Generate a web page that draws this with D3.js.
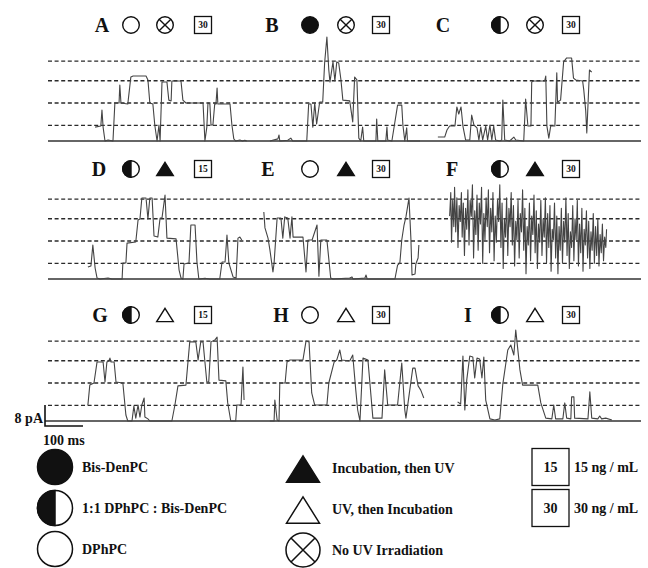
<!DOCTYPE html>
<html>
<head>
<meta charset="utf-8">
<script src="https://cdn.jsdelivr.net/npm/d3@7"></script>
<style>
  body { margin: 0; background: #fff; }
  svg { display: block; }
</style>
</head>
<body>
<svg id="chart" width="648" height="568"></svg>
<script>
// ---- Data ----------------------------------------------------------------
const panelLetters = ["A", "B", "C", "D", "E", "F", "G", "H", "I"];
// membrane: open = DPhPC, filled = Bis-DenPC, half = 1:1 mixture
const panelMembrane = ["open", "filled", "half", "half", "open", "half", "half", "open", "half"];
// treatment: none = no UV, incUV = incubation then UV, uvInc = UV then incubation
const panelTreatment = ["none", "none", "none", "incUV", "incUV", "incUV", "uvInc", "uvInc", "uvInc"];
const panelConc = [30, 30, 30, 15, 30, 30, 15, 30, 30];

// conductance levels (pA) marked by dashed lines
const levels = [6, 14.5, 23, 30.5];

// current traces: [time (ms), current (pA)]
const traceA = [[124,5.3],[139,5.7],[142,11.8],[145,5.3],[150,0],[158,0.4],[171,0],[176,14.5],[187,14.5],[189,21.4],[192,14.5],[210,14.1],[218,24.4],[224,24.8],[258,24.8],[263,23.3],[268,14.5],[276,14.1],[281,6.1],[287,0],[292,6.1],[295,0],[300,22.5],[313,22.5],[318,15.6],[324,15.3],[326,22.9],[350,22.9],[355,15.6],[363,14.5],[408,14.5],[413,0],[418,5.3],[421,14.5],[426,14.1],[429,6.1],[434,6.1],[439,14.5],[442,14.1],[445,20.2],[447,14.1],[479,14.1],[484,6.1],[489,0.8],[494,0],[505,0.4],[512,0],[518,0.3],[523,0]];
const traceB = [[584,0],[605,0.8],[608,2.3],[610,0],[631,0.3],[639,1.1],[644,0],[681,0],[686,14.1],[692,14.1],[697,5.3],[702,14.5],[707,6.5],[715,14.9],[723,14.9],[728,29.8],[734,39.7],[739,27.1],[742,22.5],[750,30.2],[755,22.9],[760,30.2],[765,29.8],[771,23.3],[776,15.6],[794,15.3],[802,7.3],[807,24.4],[813,23.3],[818,1.1],[823,0],[828,5.3],[831,0],[863,0],[865,8.4],[868,0],[889,0],[892,5.3],[894,0.4],[905,0],[920,13.7],[931,13.7],[934,6.1],[939,0],[944,5],[946,0],[979,0]];
const traceC = [[1026,1.5],[1044,1.5],[1050,4.2],[1057,5.7],[1071,5.7],[1076,13],[1081,10.3],[1087,13],[1092,5.7],[1099,0.4],[1110,0.4],[1115,9.9],[1121,6.1],[1129,5],[1134,0.4],[1139,5.3],[1144,0.4],[1152,5.7],[1157,0.4],[1163,6.1],[1168,0.4],[1173,5.7],[1178,0.4],[1189,0],[1194,0.4],[1197,15.6],[1202,0.4],[1215,0],[1226,1.5],[1231,0.4],[1252,0],[1257,16],[1263,5.7],[1271,5.7],[1273,22.5],[1278,22.9],[1307,22.9],[1310,24.8],[1313,5.7],[1318,1.1],[1323,5.7],[1334,5.7],[1339,26],[1341,14.9],[1349,15.6],[1357,30.2],[1365,31.7],[1378,31.7],[1383,24],[1389,23.3],[1407,22.9],[1410,19.5],[1415,11.8],[1418,3.1],[1425,27.1],[1431,26.3]];
const traceD = [[105,4.6],[113,5],[118,13],[124,4.2],[129,0.4],[137,0],[158,0.4],[168,0],[195,0],[197,6.1],[205,6.1],[208,13.7],[231,14.1],[237,22.5],[242,22.9],[247,30.9],[258,30.9],[263,22.9],[268,30.9],[274,30.9],[279,16.4],[289,16],[295,23.3],[300,23.3],[308,32],[313,15.6],[337,15.3],[345,3.4],[350,0.4],[355,0],[358,5.7],[371,6.1],[376,20.6],[387,20.6],[392,6.5],[397,0],[413,0.3],[426,0],[452,0],[458,6.5],[466,6.5],[471,16.8],[476,6.1],[487,0.8],[495,0.4],[500,15.6],[505,16],[510,14.9]];
const traceE = [[568,25.6],[571,19.5],[579,15.6],[584,11.1],[592,2.7],[595,6.1],[603,23.3],[613,23.3],[618,15.6],[623,23.7],[631,23.3],[637,15.6],[642,23.7],[645,16],[671,16],[679,2.7],[684,14.9],[695,14.9],[708,20.6],[713,1.1],[718,14.9],[734,14.9],[744,0.4],[750,0],[794,0.4],[800,0.8],[803,0],[834,0.4],[837,1.5],[840,0],[886,0],[913,0],[920,5.3],[926,6.1],[931,14.9],[937,20.6],[942,23.7],[950,30.9],[955,15.6],[958,1.5],[966,1.9],[968,5.7],[974,8],[976,13]];
const traceF = [[1057,24],[1060,33],[1062,14],[1065,30],[1068,20],[1070,35],[1073,18],[1076,31],[1079,12],[1082,28],[1085,22],[1088,33],[1090,16],[1093,29],[1096,9],[1099,27],[1102,19],[1105,34],[1108,13],[1111,30],[1114,24],[1117,36],[1120,8],[1123,26],[1126,17],[1129,32],[1132,11],[1135,29],[1138,21],[1141,35],[1144,6],[1147,25],[1150,15],[1153,31],[1156,20],[1159,34],[1162,10],[1165,27],[1168,18],[1171,33],[1174,7],[1177,24],[1180,14],[1183,30],[1186,22],[1189,36],[1192,12],[1195,29],[1198,4],[1201,23],[1204,16],[1207,31],[1210,9],[1213,27],[1216,20],[1219,33],[1222,13],[1225,28],[1228,5],[1231,22],[1234,15],[1237,30],[1240,8],[1243,25],[1246,18],[1249,34],[1252,11],[1255,27],[1258,2],[1261,20],[1264,13],[1267,29],[1270,7],[1273,24],[1276,17],[1279,32],[1282,10],[1285,26],[1288,4],[1291,21],[1294,14],[1297,30],[1300,9],[1303,23],[1306,16],[1309,31],[1312,6],[1315,25],[1318,12],[1321,28],[1324,3],[1327,19],[1330,15],[1333,29],[1336,8],[1339,24],[1342,2],[1345,20],[1348,11],[1351,27],[1354,6],[1357,22],[1360,14],[1363,31],[1366,9],[1369,25],[1372,4],[1375,18],[1378,12],[1381,28],[1384,7],[1387,23],[1390,15],[1393,30],[1396,5],[1399,21],[1402,10],[1405,27],[1408,3],[1411,19],[1414,13],[1417,26],[1420,8],[1423,22],[1426,4],[1429,18],[1432,11],[1435,25],[1438,6],[1441,20],[1444,9],[1447,23],[1450,5],[1453,17],[1456,10],[1459,21],[1462,7],[1465,16],[1468,12],[1470,19]];
const traceG = [[105,6.1],[110,13.7],[121,14.5],[129,22.5],[145,22.5],[150,14.9],[155,22.5],[160,22.9],[163,24],[166,22.5],[174,22.5],[179,14.9],[197,14.5],[205,2.3],[210,0],[221,0],[226,5.7],[231,1.1],[237,6.1],[242,1.5],[247,6.1],[253,8.8],[255,1.5],[263,0.8],[268,0],[326,0],[334,6.1],[342,13.4],[363,13.7],[373,30.2],[389,30.2],[395,23.3],[402,30.2],[408,30.2],[413,22.5],[418,14.9],[423,14.9],[429,30.2],[439,30.9],[445,32],[450,15.6],[468,15.3],[473,6.9],[481,0],[494,0],[497,6.1],[508,6.1],[513,20.6],[516,8]];
const traceH = [[584,0],[595,0],[597,8],[603,0.4],[608,0],[610,14.5],[624,14.5],[629,22.5],[637,23.3],[671,23.3],[679,30.5],[687,30.2],[694,10.7],[702,6.1],[734,6.1],[739,14.5],[753,22.5],[760,23.3],[768,27.1],[773,23.3],[794,22.9],[802,25.2],[810,11.8],[815,4.2],[821,0],[829,24],[842,23.3],[855,1.1],[879,1.1],[886,19.5],[894,6.1],[907,6.1],[920,6.1],[931,22.1],[939,4.2],[942,1.1],[960,20.2],[966,20.2],[974,13.4],[981,11.8],[989,8.8]];
const traceI = [[1078,7.3],[1086,6.5],[1092,24.8],[1097,4.2],[1102,15.6],[1110,24.8],[1118,24.4],[1123,16.4],[1129,24],[1136,23.7],[1142,16.4],[1147,24.4],[1152,8],[1163,0.8],[1176,0.4],[1189,0.8],[1197,14.1],[1210,27.1],[1218,29],[1226,25.2],[1231,34.7],[1236,27.9],[1242,19.5],[1249,13.7],[1260,13.7],[1289,13.7],[1297,6.9],[1310,1.1],[1326,0.8],[1331,6.1],[1336,0.8],[1355,0.8],[1360,6.9],[1365,1.1],[1376,0.8],[1378,9.2],[1384,9.2],[1386,1.1],[1421,0.8],[1426,11.1],[1431,1.1],[1447,0.8],[1452,1.9],[1457,0.8],[1468,1.1],[1484,0.4]];
const traces = [traceA, traceB, traceC, traceD, traceE, traceF, traceG, traceH, traceI];

// legend entries
const membraneKeys = ["filled", "half", "open"];
const membraneLabels = ["Bis-DenPC", "1:1 DPhPC : Bis-DenPC", "DPhPC"];
const treatmentKeys = ["incUV", "uvInc", "none"];
const treatmentLabels = ["Incubation, then UV", "UV, then Incubation", "No UV Irradiation"];
const concValues = [15, 30];
const concLabels = ["15 ng / mL", "30 ng / mL"];

// scale bar
const scaleBarPA = 8;
const scaleBarMs = 100;

// ---- Layout --------------------------------------------------------------
const svg = d3.select("#chart");
const serif = "'Liberation Serif', 'Times New Roman', serif";
const ink = "#111";
const traceColor = "#444";

const rowBase = [141, 279, 421];
const headerY = [25, 169, 315];
const pxPerPA = 2.62;
const x = d3.scaleLinear().domain([0, 1558]).range([48, 640]);
const yScales = rowBase.map(b => d3.scaleLinear().domain([0, 40]).range([b, b - 40 * pxPerPA]));

const letterX = [102, 272, 443, 99, 268, 452, 100, 281, 468];
const symX = [[131, 165, 203], [310, 346, 381], [500, 535, 571]];

// ---- Symbol helpers ------------------------------------------------------
function membraneSymbol(g, kind, cx, cy, r, sw) {
  if (kind === "half") {
    g.append("circle").attr("cx", cx).attr("cy", cy).attr("r", r)
      .attr("fill", "#fff").attr("stroke", ink).attr("stroke-width", sw);
    g.append("path")
      .attr("d", `M${cx},${cy - r} A${r},${r} 0 0 0 ${cx},${cy + r} Z`)
      .attr("fill", ink).attr("stroke", ink).attr("stroke-width", sw);
  } else {
    g.append("circle").attr("cx", cx).attr("cy", cy).attr("r", r)
      .attr("fill", kind === "filled" ? ink : "#fff")
      .attr("stroke", ink).attr("stroke-width", sw);
  }
}

function treatmentSymbol(g, kind, cx, cy, size, sw) {
  if (kind === "none") {
    const r = size;
    g.append("circle").attr("cx", cx).attr("cy", cy).attr("r", r)
      .attr("fill", "#fff").attr("stroke", ink).attr("stroke-width", sw);
    const d = r * Math.SQRT1_2;
    g.append("path")
      .attr("d", `M${cx - d},${cy - d}L${cx + d},${cy + d}M${cx + d},${cy - d}L${cx - d},${cy + d}`)
      .attr("stroke", ink).attr("stroke-width", sw);
  } else {
    const w = size * 1.0, h = size * 0.8;
    g.append("path")
      .attr("d", `M${cx},${cy - h}L${cx + w},${cy + h}L${cx - w},${cy + h}Z`)
      .attr("fill", kind === "incUV" ? ink : "#fff")
      .attr("stroke", ink).attr("stroke-width", sw).attr("stroke-linejoin", "miter");
  }
}

function concBox(g, value, cx, cy, w, h, fontSize, sw) {
  g.append("rect").attr("x", cx - w / 2).attr("y", cy - h / 2)
    .attr("width", w).attr("height", h)
    .attr("fill", "#fff").attr("stroke", ink).attr("stroke-width", sw);
  g.append("text").attr("x", cx).attr("y", cy + fontSize * 0.35)
    .attr("text-anchor", "middle").attr("font-family", serif)
    .attr("font-weight", "bold").attr("font-size", fontSize).attr("fill", ink)
    .text(value);
}

// ---- Reference lines -----------------------------------------------------
rowBase.forEach((base, r) => {
  const y = yScales[r];
  const g = svg.append("g");
  g.selectAll("line.level").data(levels).join("line")
    .attr("class", "level")
    .attr("x1", x.range()[0]).attr("x2", x.range()[1] + 1)
    .attr("y1", d => y(d)).attr("y2", d => y(d))
    .attr("stroke", "#2a2a2a").attr("stroke-width", 1.3)
    .attr("stroke-dasharray", "4,2.6");
  g.append("line")
    .attr("x1", r === 2 ? x.range()[0] - 3 : x.range()[0]).attr("x2", x.range()[1] + 1)
    .attr("y1", y(0)).attr("y2", y(0))
    .attr("stroke", "#333").attr("stroke-width", 1.6);
});

// ---- Traces --------------------------------------------------------------
traces.forEach((tr, i) => {
  const row = Math.floor(i / 3);
  const y = yScales[row];
  const line = d3.line().x(d => x(d[0])).y(d => y(d[1]));
  svg.append("path").datum(tr)
    .attr("d", line)
    .attr("fill", "none")
    .attr("stroke", traceColor)
    .attr("stroke-width", 1.1)
    .attr("stroke-linejoin", "round");
});

// ---- Panel headers -------------------------------------------------------
panelLetters.forEach((L, i) => {
  const row = Math.floor(i / 3), col = i % 3;
  const cy = headerY[row];
  const g = svg.append("g");
  g.append("text").attr("x", letterX[i]).attr("y", cy + 7)
    .attr("text-anchor", "middle").attr("font-family", serif)
    .attr("font-weight", "bold").attr("font-size", 20).attr("fill", ink)
    .text(L);
  membraneSymbol(g, panelMembrane[i], symX[col][0], cy, 8.3, 1.4);
  treatmentSymbol(g, panelTreatment[i], symX[col][1], cy, 8.3, 1.4);
  concBox(g, panelConc[i], symX[col][2], cy, 17, 17, 9.5, 1.3);
});

// ---- Scale bar -----------------------------------------------------------
{
  const y = yScales[2];
  const x0 = 45;
  const yBot = y(0) + 5;
  const g = svg.append("g");
  g.append("path")
    .attr("d", `M${x0},${yBot - scaleBarPA * pxPerPA}V${yBot}H${x0 + (x(scaleBarMs) - x(0))}`)
    .attr("fill", "none").attr("stroke", ink).attr("stroke-width", 1.6);
  g.append("text").attr("x", 43).attr("y", 423)
    .attr("text-anchor", "end").attr("font-family", serif)
    .attr("font-weight", "bold").attr("font-size", 14).attr("fill", ink)
    .text(`${scaleBarPA} pA`);
  g.append("text").attr("x", 43).attr("y", 445)
    .attr("font-family", serif)
    .attr("font-weight", "bold").attr("font-size", 14).attr("fill", ink)
    .text(`${scaleBarMs} ms`);
}

// ---- Legend --------------------------------------------------------------
{
  const g = svg.append("g");
  const rowsY = [467, 508, 549];
  const labelStyle = sel => sel.attr("font-family", serif).attr("font-weight", "bold")
    .attr("font-size", 14).attr("fill", ink);

  membraneKeys.forEach((k, i) => {
    membraneSymbol(g, k, 55, rowsY[i], 17.5, 1.5);
    g.append("text").attr("x", 82).attr("y", rowsY[i] + 5).call(labelStyle).text(membraneLabels[i]);
  });

  treatmentKeys.forEach((k, i) => {
    treatmentSymbol(g, k, 303, rowsY[i] + (k === "none" ? 1 : 2), k === "none" ? 17 : 16.5, 1.5);
    g.append("text").attr("x", 332).attr("y", rowsY[i] + 6).call(labelStyle).text(treatmentLabels[i]);
  });

  concValues.forEach((v, i) => {
    const cy = [467, 508][i];
    concBox(g, v, 550.5, cy, 37, 37, 14, 1.3);
    g.append("text").attr("x", 574).attr("y", cy + 5).call(labelStyle).text(concLabels[i]);
  });
}
</script>
</body>
</html>
